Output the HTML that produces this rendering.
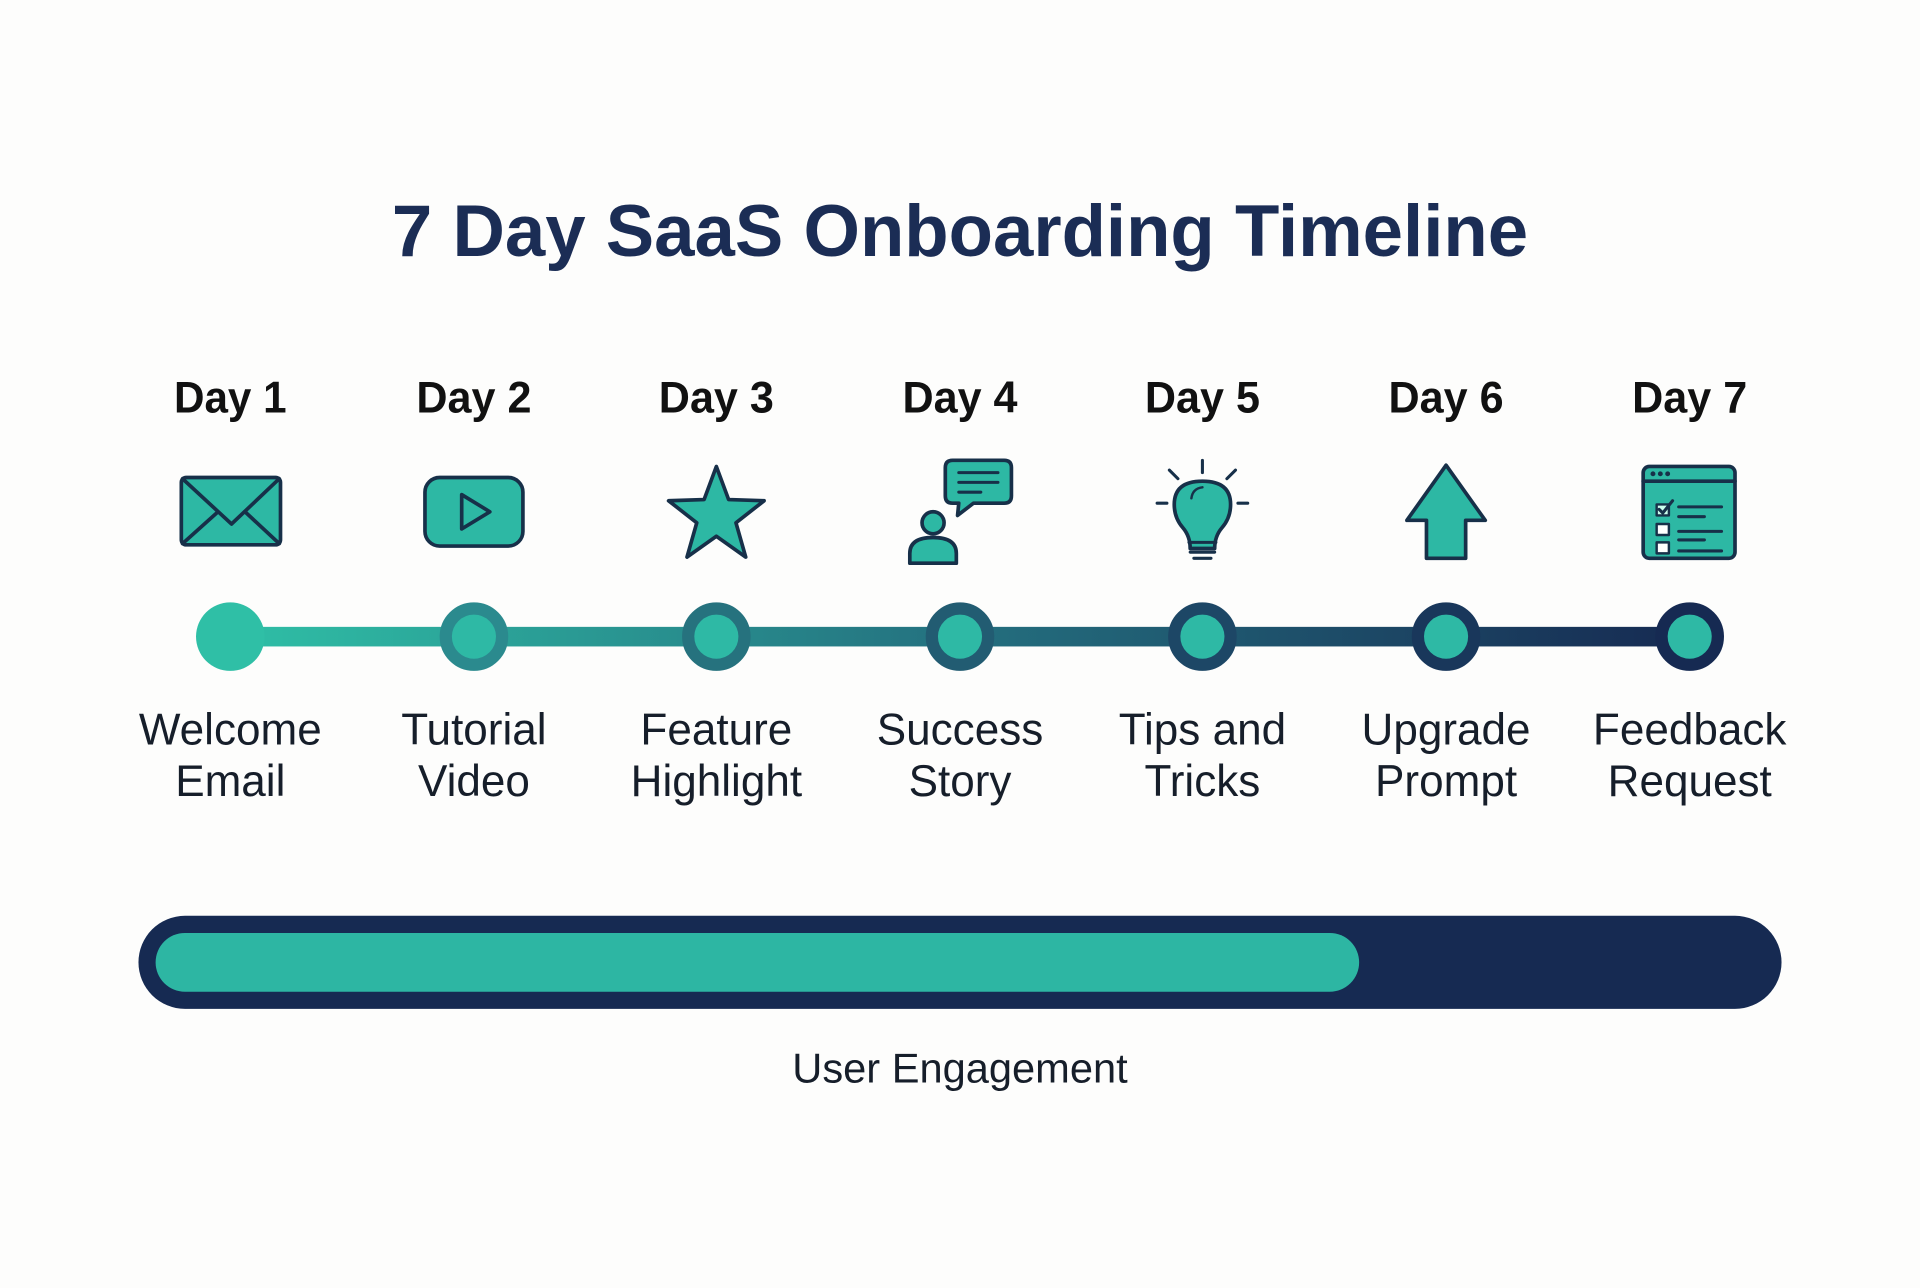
<!DOCTYPE html>
<html><head><meta charset="utf-8"><style>
html,body{margin:0;padding:0;background:#fdfdfc;}
svg{display:block;}
text{font-family:"Liberation Sans",sans-serif;}
</style></head><body>
<svg width="1920" height="1288" viewBox="0 0 1568 1052" xmlns="http://www.w3.org/2000/svg">
<defs>
<linearGradient id="tl" x1="188" y1="0" x2="1380" y2="0" gradientUnits="userSpaceOnUse">
<stop offset="0" stop-color="#2fbfa6"/><stop offset="0.5" stop-color="#24707f"/><stop offset="1" stop-color="#162a52"/>
</linearGradient>
</defs>
<rect width="1568" height="1052" fill="#fdfdfc"/>
<text x="784" y="209" text-anchor="middle" font-size="60" font-weight="bold" fill="#1b2d55" textLength="928" lengthAdjust="spacingAndGlyphs">7 Day SaaS Onboarding Timeline</text>
<g font-size="36" font-weight="bold" fill="#111" text-anchor="middle">
<text x="188" y="337" textLength="92" lengthAdjust="spacingAndGlyphs">Day 1</text>
<text x="387" y="337" textLength="94" lengthAdjust="spacingAndGlyphs">Day 2</text>
<text x="585" y="337" textLength="94" lengthAdjust="spacingAndGlyphs">Day 3</text>
<text x="784" y="337" textLength="94" lengthAdjust="spacingAndGlyphs">Day 4</text>
<text x="982" y="337" textLength="94" lengthAdjust="spacingAndGlyphs">Day 5</text>
<text x="1181" y="337" textLength="94" lengthAdjust="spacingAndGlyphs">Day 6</text>
<text x="1380" y="337" textLength="94" lengthAdjust="spacingAndGlyphs">Day 7</text>
</g>
<g fill="#2db8a4" stroke="#173049" stroke-width="3" stroke-linejoin="round" stroke-linecap="round">
<!-- envelope -->
<rect x="148" y="390" width="81" height="55" rx="4"/>
<path d="M149 391 L189 428 L228 391 M149 444 L178 418 M228 444 L200 418" fill="none"/>
<!-- video -->
<rect x="347" y="390" width="80" height="56" rx="12"/>
<path d="M377 404 L377 432 L400 418 Z"/>
<!-- star -->
<path d="M585 381 L595 408 L624 409 L601 427 L609 455 L585 438 L561 455 L569 427 L546 409 L575 408 Z"/>
<!-- day4 -->
<path d="M778 376 H820 Q826 376 826 382 V405 Q826 411 820 411 H795 L782 421 L783 411 H778 Q772 411 772 405 V382 Q772 376 778 376 Z"/>
<path d="M783 386 H815 M783 394 H815 M783 402 H801" fill="none" stroke-width="2.5"/>
<circle cx="762" cy="427" r="9"/>
<path d="M743 460 V452 Q743 439 762 439 Q781 439 781 452 V460 Z"/>
<!-- bulb -->
<path d="M972 448 Q972 438 966 431 Q959 423 959 412 Q959 393 982 393 Q1005 393 1005 412 Q1005 423 998 431 Q992 438 992 448 Z"/>
<path d="M971 443 H993 M972 451 H992 M975 456 H989" fill="none" stroke-width="2.5"/>
<path d="M973 407 Q974 399 982 398" fill="none" stroke-width="2"/>
<path d="M982 376 V386 M955 384 L962 391 M1009 384 L1002 391 M945 411 H953 M1011 411 H1019" fill="none" stroke-width="2.5"/>
<!-- arrow -->
<path d="M1181 380 L1213 425 L1197 425 L1197 456 L1165 456 L1165 425 L1149 425 Z"/>
<!-- window -->
<rect x="1342" y="381" width="75" height="75" rx="5"/>
<path d="M1342 393 H1417" fill="none"/>
<path d="M1371 414 H1406 M1371 422 H1392 M1371 434 H1406 M1371 441 H1392 M1371 450 H1406 M1371 456 H1392" fill="none" stroke-width="2.5"/>
<rect x="1353" y="412" width="10" height="9" fill="#cfe" stroke-width="2"/>
<rect x="1353" y="428" width="10" height="9" fill="#fff" stroke-width="2"/>
<rect x="1353" y="443" width="10" height="9" fill="#fff" stroke-width="2"/>
<path d="M1355 416 L1358 419 L1366 409" fill="none" stroke-width="2.5"/>
</g>
<g fill="#173049"><circle cx="1350" cy="387" r="2"/><circle cx="1356" cy="387" r="2"/><circle cx="1362" cy="387" r="2"/></g>
<!-- timeline -->
<rect x="188" y="512" width="1192" height="16" fill="url(#tl)"/>
<circle cx="188" cy="520" r="28" fill="#2fbfa6"/>
<g fill="#2eb9a5" stroke="url(#tl)" stroke-width="10">
<circle cx="387" cy="520" r="23" stroke="#2b8a8e"/>
<circle cx="585" cy="520" r="23" stroke="#26727e"/>
<circle cx="784" cy="520" r="23" stroke="#225c72"/>
<circle cx="982" cy="520" r="23" stroke="#1d4766"/>
<circle cx="1181" cy="520" r="23" stroke="#19375b"/>
<circle cx="1380" cy="520" r="23" stroke="#162a52"/>
</g>
<g font-size="36" fill="#161e2a" text-anchor="middle">
<text x="188" y="608">Welcome</text><text x="188" y="650">Email</text>
<text x="387" y="608">Tutorial</text><text x="387" y="650">Video</text>
<text x="585" y="608">Feature</text><text x="585" y="650">Highlight</text>
<text x="784" y="608">Success</text><text x="784" y="650">Story</text>
<text x="982" y="608">Tips and</text><text x="982" y="650">Tricks</text>
<text x="1181" y="608">Upgrade</text><text x="1181" y="650">Prompt</text>
<text x="1380" y="608">Feedback</text><text x="1380" y="650">Request</text>
</g>
<!-- progress -->
<rect x="113" y="748" width="1342" height="76" rx="38" fill="#162a52"/>
<rect x="127" y="762" width="983" height="48" rx="24" fill="#2db6a3"/>
<text x="784" y="884" text-anchor="middle" font-size="34" fill="#161e2a">User Engagement</text>
</svg>
</body></html>
